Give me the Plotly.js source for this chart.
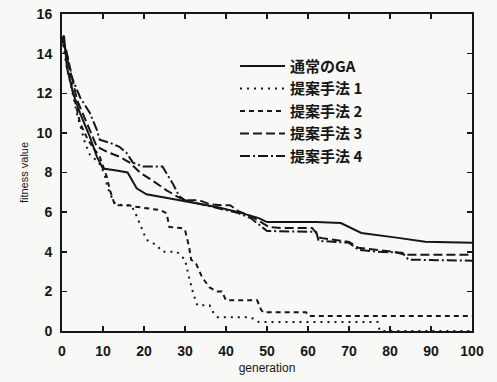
<!DOCTYPE html>
<html>
<head>
<meta charset="utf-8">
<script src="https://cdn.plot.ly/plotly-3.0.1.min.js"></script>
<style>html,body{margin:0;padding:0;background:#f8f8f6;}</style>
</head>
<body>
<div id="chart" style="width:497px;height:382px;"></div>
<script>
// Series names (legend)
const seriesNames = ["通常のGA", "提案手法 1", "提案手法 2", "提案手法 3", "提案手法 4"];

// 通常のGA (solid)
const gaX = [0, 0.5, 1.2, 2.7, 4.4, 6.8, 8.5, 10, 13.3, 16, 18.2, 20.6, 26, 33, 38, 43, 48, 50, 62, 68, 70.5, 73, 82, 88.6, 100];
const gaY = [14.8, 14.9, 13.3, 12.0, 11.0, 9.8, 8.8, 8.2, 8.1, 8.0, 7.2, 6.9, 6.7, 6.45, 6.25, 6.0, 5.7, 5.5, 5.5, 5.45, 5.2, 4.95, 4.7, 4.5, 4.45];

// 提案手法 1 (dotted)
const m1X = [0, 1, 2.4, 3.6, 5.6, 6.8, 9, 10.4, 11, 12, 13, 17, 18, 19.5, 20.6, 23, 24.5, 28, 29, 30, 31, 32, 33, 36, 37, 38, 46, 48, 77, 77.5, 100];
const m1Y = [14.8, 13.5, 12.2, 11.0, 9.5, 8.9, 8.5, 7.9, 7.3, 6.8, 6.4, 6.3, 5.9, 5.1, 4.6, 4.35, 4.0, 4.0, 3.8, 3.6, 2.7, 1.9, 1.3, 1.3, 0.9, 0.7, 0.7, 0.45, 0.45, 0, 0];

// 提案手法 2 (short dash)
const m2X = [0, 1.5, 2.4, 3.6, 4.4, 6.3, 9.2, 10.9, 11.7, 12.9, 16.5, 17, 24, 25.5, 26.2, 29, 30, 31, 31.5, 32.7, 34.2, 36, 37.6, 39, 40, 47.6, 48.5, 49, 59.5, 60.2, 100];
const m2Y = [14.8, 13.7, 12.3, 11.2, 10.5, 9.65, 8.8, 7.8, 7.1, 6.35, 6.35, 6.3, 6.1, 5.95, 5.25, 5.2, 5.1, 4.25, 3.6, 3.4, 2.7, 2.2, 2.0, 2.0, 1.55, 1.55, 1.1, 0.95, 0.95, 0.76, 0.76];

// 提案手法 3 (long dash)
const m3X = [0, 1, 3.6, 6, 8.5, 10.9, 14, 16.5, 19, 22, 25.5, 28, 30, 33.5, 36, 39, 41, 43, 46, 50.5, 53.6, 61, 62, 63, 70, 72.3, 81, 83.7, 100];
const m3Y = [14.8, 14.2, 11.7, 10.5, 9.3, 9.05, 8.8, 8.5, 8.0, 7.6, 7.1, 6.8, 6.6, 6.6, 6.4, 6.35, 6.35, 6.05, 5.8, 5.25, 5.2, 5.2, 4.95, 4.7, 4.5, 4.2, 4.0, 3.85, 3.85];

// 提案手法 4 (dash-dot)
const m4X = [0, 1.5, 2.4, 4.4, 6.8, 8.5, 9.2, 11.7, 14, 15.7, 17.3, 19.7, 24.5, 27, 28.6, 30, 34, 38, 43, 46, 50, 62, 62.6, 70, 72.3, 77, 83, 84.5, 100];
const m4Y = [14.8, 13.6, 12.8, 11.8, 11.0, 10.15, 9.65, 9.5, 9.3, 9.0, 8.5, 8.3, 8.3, 7.45, 6.8, 6.6, 6.4, 6.2, 5.95, 5.7, 5.05, 5.0, 4.55, 4.45, 4.1, 4.0, 3.95, 3.6, 3.55];

const xTicks = [0, 10, 20, 30, 40, 50, 60, 70, 80, 90, 100];
const yTicks = [0, 2, 4, 6, 8, 10, 12, 14, 16];

const ink = "#161616";
const xs = [gaX, m1X, m2X, m3X, m4X];
const ys = [gaY, m1Y, m2Y, m3Y, m4Y];
const dashes = ["solid", "2px,5px", "5px,4px", "9px,4px", "10px,3px,2px,3px"];

const traces = xs.map((x, i) => ({
  x: x, y: ys[i], name: seriesNames[i], type: "scatter", mode: "lines",
  line: {color: ink, width: 2, dash: dashes[i]}
}));

const axisCommon = {
  showline: true, linecolor: ink, linewidth: 2, mirror: "ticks",
  ticks: "inside", ticklen: 5, tickwidth: 1.5, tickcolor: ink,
  showgrid: false, zeroline: false,
  tickfont: {family: "Liberation Sans, Arial, sans-serif", size: 14, color: ink, weight: "bold"}
};

const layout = {
  width: 497, height: 382,
  margin: {l: 62, r: 25, t: 14, b: 51},
  paper_bgcolor: "#f8f8f6", plot_bgcolor: "#f8f8f6",
  showlegend: true,
  legend: {
    x: 0.422, y: 0.887, xanchor: "left", yanchor: "top",
    itemwidth: 45,
    bgcolor: "rgba(0,0,0,0)", borderwidth: 0,
    font: {family: "Noto Sans CJK JP, sans-serif", size: 15, color: ink, weight: "bold"}
  },
  xaxis: Object.assign({}, axisCommon, {
    range: [0, 100], tickvals: xTicks, ticktext: xTicks.map(String), ticklabelstandoff: 6,
    title: {text: "generation", font: {family: "Liberation Sans, Arial, sans-serif", size: 12, color: ink}, standoff: 6}
  }),
  yaxis: Object.assign({}, axisCommon, {
    range: [0, 16], tickvals: yTicks, ticktext: yTicks.map(String), ticklabelstandoff: 5,
    title: {text: "fitness value", font: {family: "Liberation Sans, Arial, sans-serif", size: 11, color: ink}, standoff: 6}
  })
};

Plotly.newPlot("chart", traces, layout, {staticPlot: true, displayModeBar: false});
</script>
</body>
</html>
